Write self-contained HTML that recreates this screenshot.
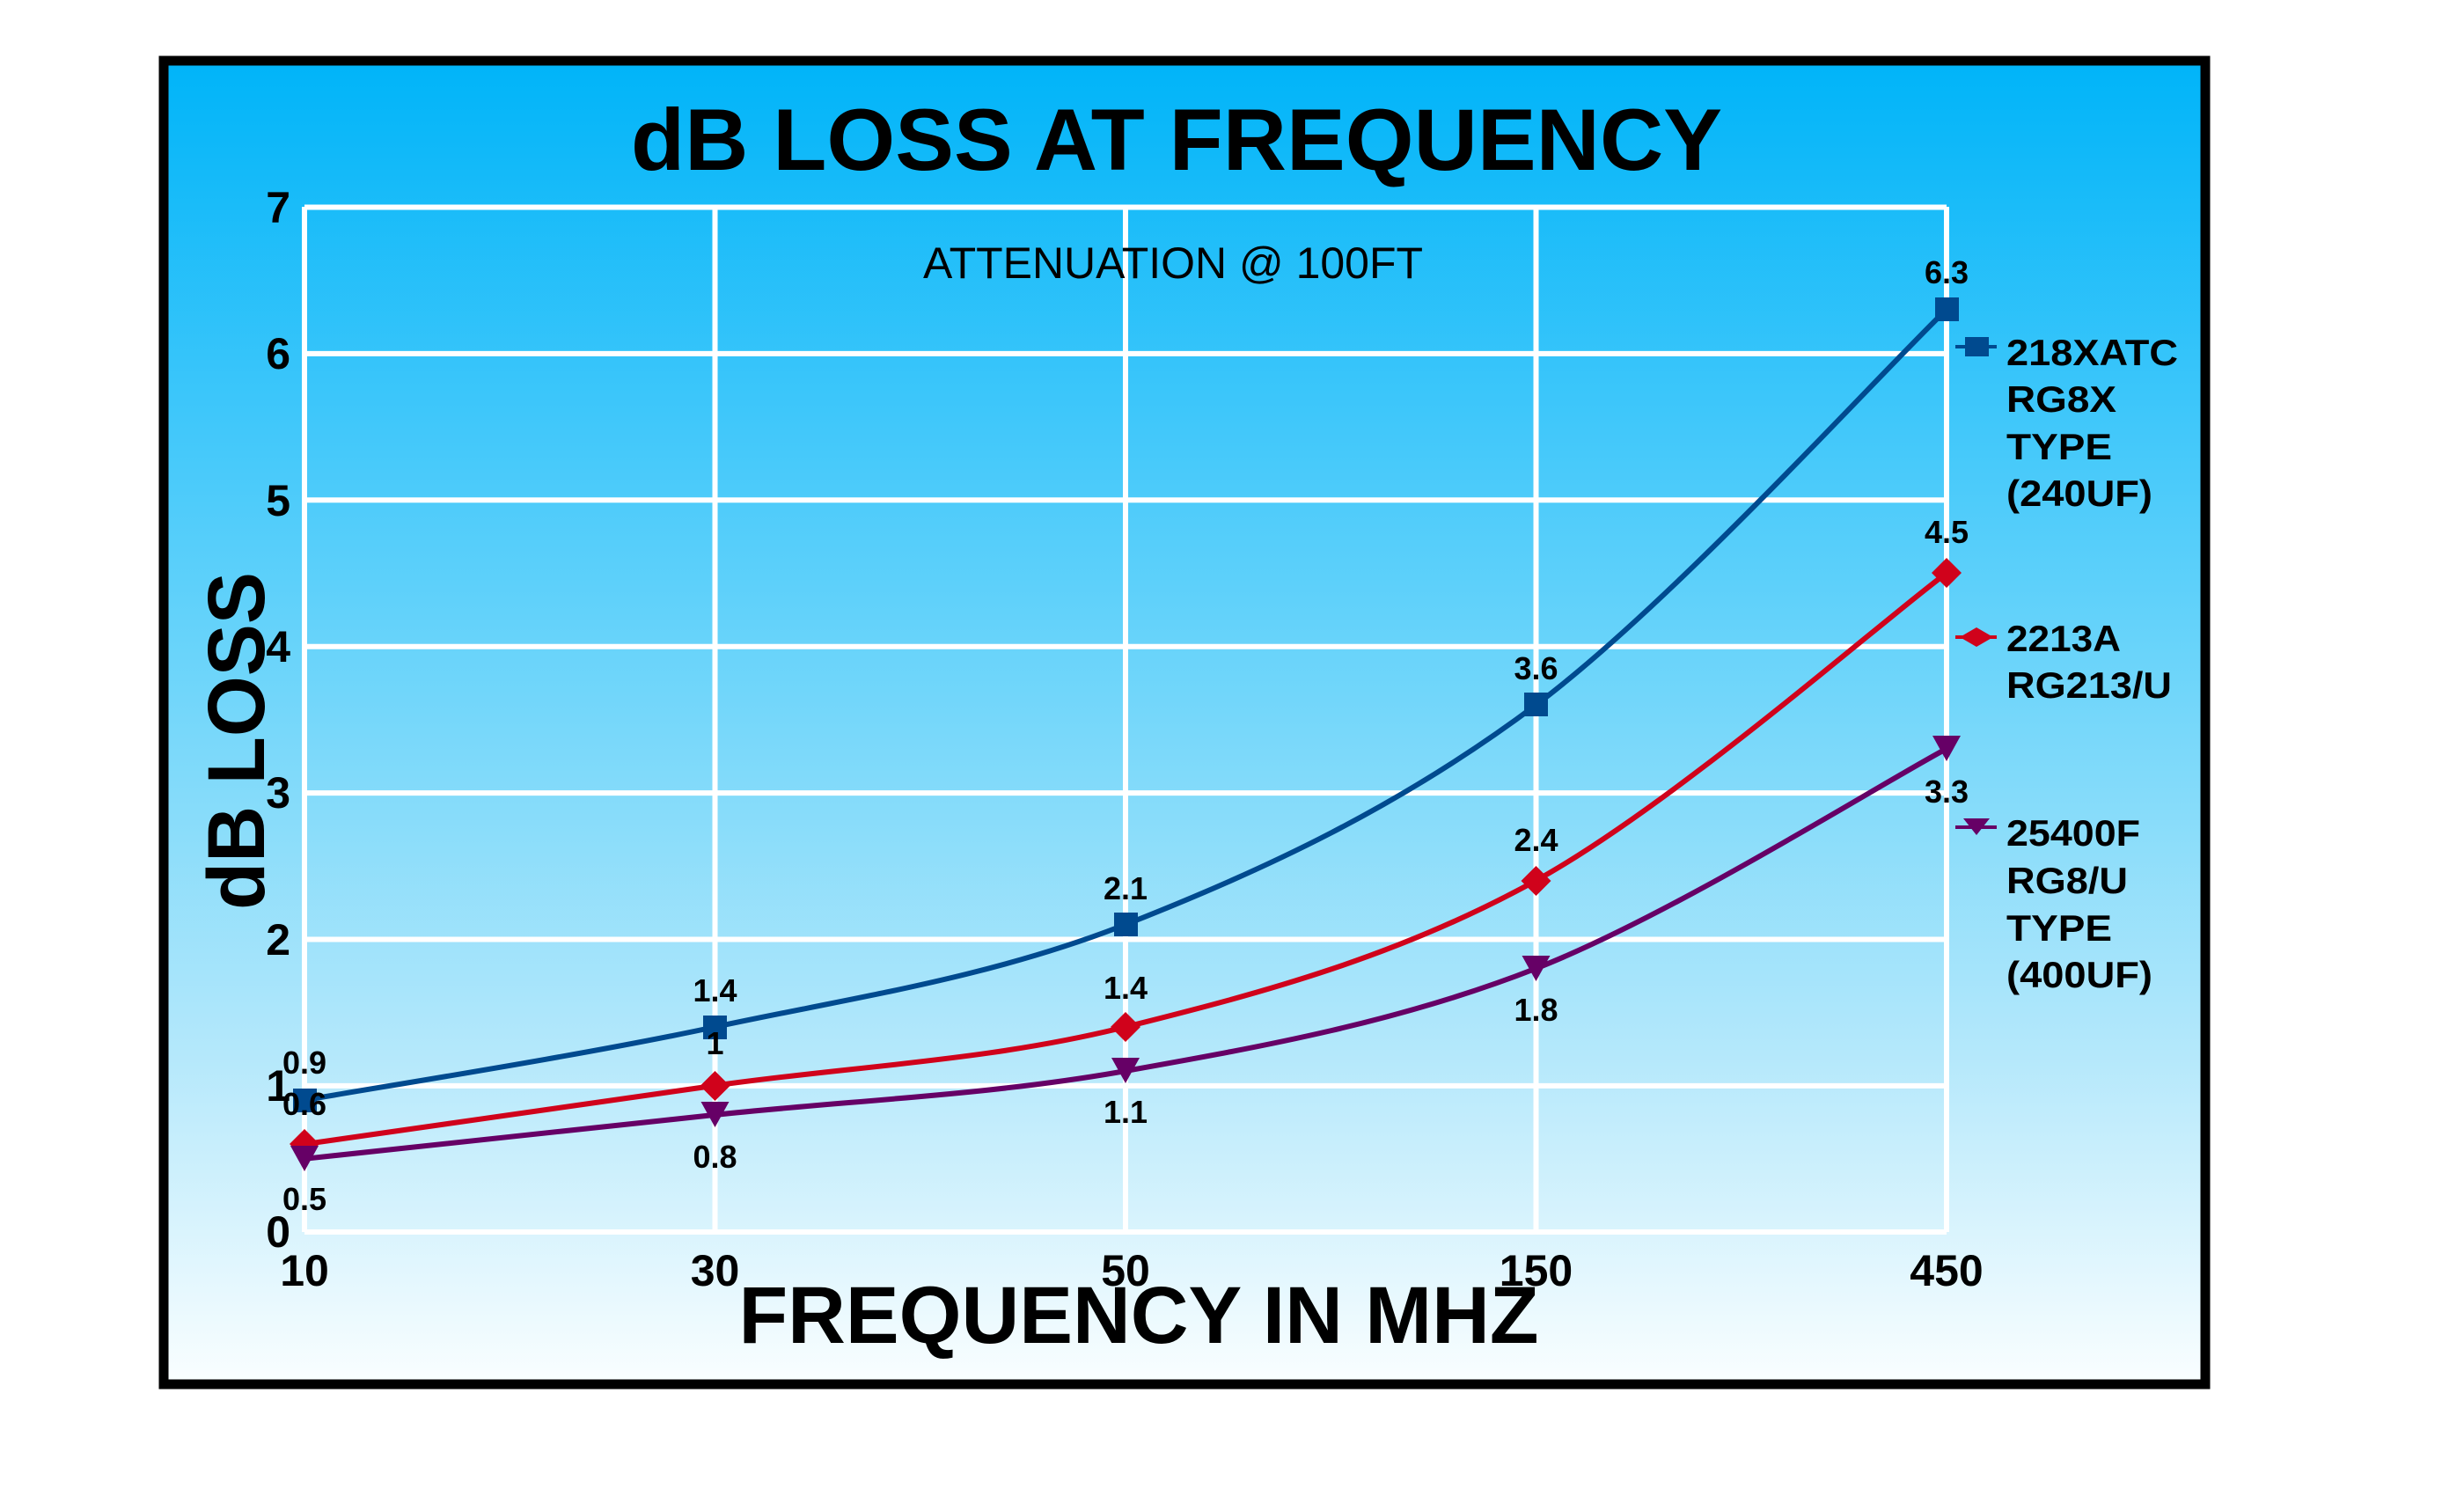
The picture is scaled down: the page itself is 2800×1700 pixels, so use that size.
<!DOCTYPE html>
<html><head><meta charset="utf-8"><style>
html,body{margin:0;padding:0;background:#fff;}
svg{display:block;}
text{font-family:"Liberation Sans",Arial,sans-serif;font-weight:bold;fill:#000;}
</style></head><body>
<svg width="2800" height="1700" viewBox="0 0 2800 1700" xmlns="http://www.w3.org/2000/svg">
<defs>
<linearGradient id="bg" x1="0" y1="0" x2="0" y2="1">
<stop offset="0" stop-color="#00B4F9"/>
<stop offset="0.45" stop-color="#6AD4FA"/>
<stop offset="0.75" stop-color="#B4E8FB"/>
<stop offset="1" stop-color="#FAFEFF"/>
</linearGradient>
</defs>
<rect x="186" y="69" width="2320" height="1504" fill="url(#bg)" stroke="#000" stroke-width="11"/>
<g stroke="#fff" stroke-width="6">
<line x1="346" y1="235.5" x2="2212" y2="235.5"/>
<line x1="346" y1="401.9" x2="2212" y2="401.9"/>
<line x1="346" y1="568.3" x2="2212" y2="568.3"/>
<line x1="346" y1="734.7" x2="2212" y2="734.7"/>
<line x1="346" y1="901.1" x2="2212" y2="901.1"/>
<line x1="346" y1="1067.5" x2="2212" y2="1067.5"/>
<line x1="346" y1="1233.9" x2="2212" y2="1233.9"/>
<line x1="346" y1="1400" x2="2212" y2="1400"/>
<line x1="346" y1="235" x2="346" y2="1400"/>
<line x1="812.5" y1="235" x2="812.5" y2="1400"/>
<line x1="1279" y1="235" x2="1279" y2="1400"/>
<line x1="1745.5" y1="235" x2="1745.5" y2="1400"/>
<line x1="2212" y1="235" x2="2212" y2="1400"/>
</g>
<text x="1337" y="193" font-size="99" text-anchor="middle" textLength="1240" lengthAdjust="spacingAndGlyphs">dB LOSS AT FREQUENCY</text>
<text x="1049" y="316" font-size="50" style="font-weight:normal" textLength="568" lengthAdjust="spacingAndGlyphs">ATTENUATION @ 100FT</text>
<g font-size="50" text-anchor="end">
<text x="330" y="253">7</text>
<text x="330" y="419">6</text>
<text x="330" y="586">5</text>
<text x="330" y="752">4</text>
<text x="330" y="918">3</text>
<text x="330" y="1085">2</text>
<text x="330" y="1251">1</text>
<text x="330" y="1417">0</text>
</g>
<g font-size="50" text-anchor="middle">
<text x="346" y="1461">10</text>
<text x="812.5" y="1461">30</text>
<text x="1279" y="1461">50</text>
<text x="1745.5" y="1461">150</text>
<text x="2212" y="1461">450</text>
</g>
<text x="1294" y="1526" font-size="92" text-anchor="middle" textLength="909" lengthAdjust="spacingAndGlyphs">FREQUENCY IN MHZ</text>
<text transform="translate(300,842) rotate(-90)" font-size="92" text-anchor="middle" textLength="384" lengthAdjust="spacingAndGlyphs">dB LOSS</text>
<g fill="none" stroke-width="6">
<path stroke="#004A8F" d="M346,1250.2 C424,1236.3 657,1200.3 812.5,1167 C968,1133.7 1123.5,1111.6 1279,1050.6 C1434.5,989.6 1590,917.5 1745.5,801 C1901,684.5 2134,426.6 2212,351.7"/>
<path stroke="#D0021B" d="M346,1300.2 C424,1289.1 657,1255.8 812.5,1233.6 C968,1211.4 1123.5,1205.8 1279,1167 C1434.5,1128.2 1590,1086.6 1745.5,1000.6 C1901,914.6 2134,709.4 2212,651.2"/>
<path stroke="#660066" d="M346,1316.8 C424,1308.5 657,1283.5 812.5,1266.9 C968,1250.3 1123.5,1244.7 1279,1217 C1434.5,1189.3 1590,1161.5 1745.5,1100.5 C1901,1039.5 2134,892.4 2212,850.8"/>
</g>
<g fill="#004A8F">
<rect x="333" y="1237" width="27" height="27"/>
<rect x="799" y="1154" width="27" height="27"/>
<rect x="1266" y="1037" width="27" height="27"/>
<rect x="1732" y="787" width="27" height="27"/>
<rect x="2199" y="338" width="27" height="27"/>
</g>
<g fill="#D0021B">
<polygon points="346,1283 363,1300 346,1317 329,1300"/>
<polygon points="812.5,1217 829.5,1234 812.5,1251 795.5,1234"/>
<polygon points="1279,1150 1296,1167 1279,1184 1262,1167"/>
<polygon points="1745.5,984 1762.5,1001 1745.5,1018 1728.5,1001"/>
<polygon points="2212,634 2229,651 2212,668 2195,651"/>
</g>
<g fill="#660066">
<polygon points="330,1302 362,1302 346,1331"/>
<polygon points="796.5,1252 828.5,1252 812.5,1281"/>
<polygon points="1263,1202 1295,1202 1279,1231"/>
<polygon points="1729.5,1086 1761.5,1086 1745.5,1115"/>
<polygon points="2196,836 2228,836 2212,865"/>
</g>
<g font-size="36" text-anchor="middle">
<text x="346" y="1220">0.9</text>
<text x="812.5" y="1138">1.4</text>
<text x="1279" y="1022">2.1</text>
<text x="1745.5" y="772">3.6</text>
<text x="2212" y="322">6.3</text>
<text x="346" y="1267">0.6</text>
<text x="812.5" y="1198">1</text>
<text x="1279" y="1135">1.4</text>
<text x="1745.5" y="967">2.4</text>
<text x="2212" y="617">4.5</text>
<text x="346" y="1375">0.5</text>
<text x="812.5" y="1327">0.8</text>
<text x="1279" y="1276">1.1</text>
<text x="1745.5" y="1160">1.8</text>
<text x="2212" y="912">3.3</text>
</g>
<!-- legend -->
<line x1="2222" y1="394" x2="2269" y2="394" stroke="#004A8F" stroke-width="4"/>
<rect x="2233" y="383" width="27" height="22" fill="#004A8F"/>
<line x1="2222" y1="724" x2="2269" y2="724" stroke="#D0021B" stroke-width="4"/>
<polygon points="2246,713 2265,724 2246,735 2227,724" fill="#D0021B"/>
<line x1="2222" y1="940" x2="2269" y2="940" stroke="#660066" stroke-width="4"/>
<polygon points="2231,930 2261,930 2246,949" fill="#660066"/>
<g font-size="42">
<text x="2280" y="415" textLength="195" lengthAdjust="spacingAndGlyphs">218XATC</text>
<text x="2280" y="468" textLength="125" lengthAdjust="spacingAndGlyphs">RG8X</text>
<text x="2280" y="522" textLength="120" lengthAdjust="spacingAndGlyphs">TYPE</text>
<text x="2280" y="575" textLength="166" lengthAdjust="spacingAndGlyphs">(240UF)</text>
<text x="2280" y="740" textLength="130" lengthAdjust="spacingAndGlyphs">2213A</text>
<text x="2280" y="793" textLength="188" lengthAdjust="spacingAndGlyphs">RG213/U</text>
<text x="2280" y="961" textLength="152" lengthAdjust="spacingAndGlyphs">25400F</text>
<text x="2280" y="1015" textLength="138" lengthAdjust="spacingAndGlyphs">RG8/U</text>
<text x="2280" y="1069" textLength="120" lengthAdjust="spacingAndGlyphs">TYPE</text>
<text x="2280" y="1122" textLength="166" lengthAdjust="spacingAndGlyphs">(400UF)</text>
</g>
</svg>
</body></html>
